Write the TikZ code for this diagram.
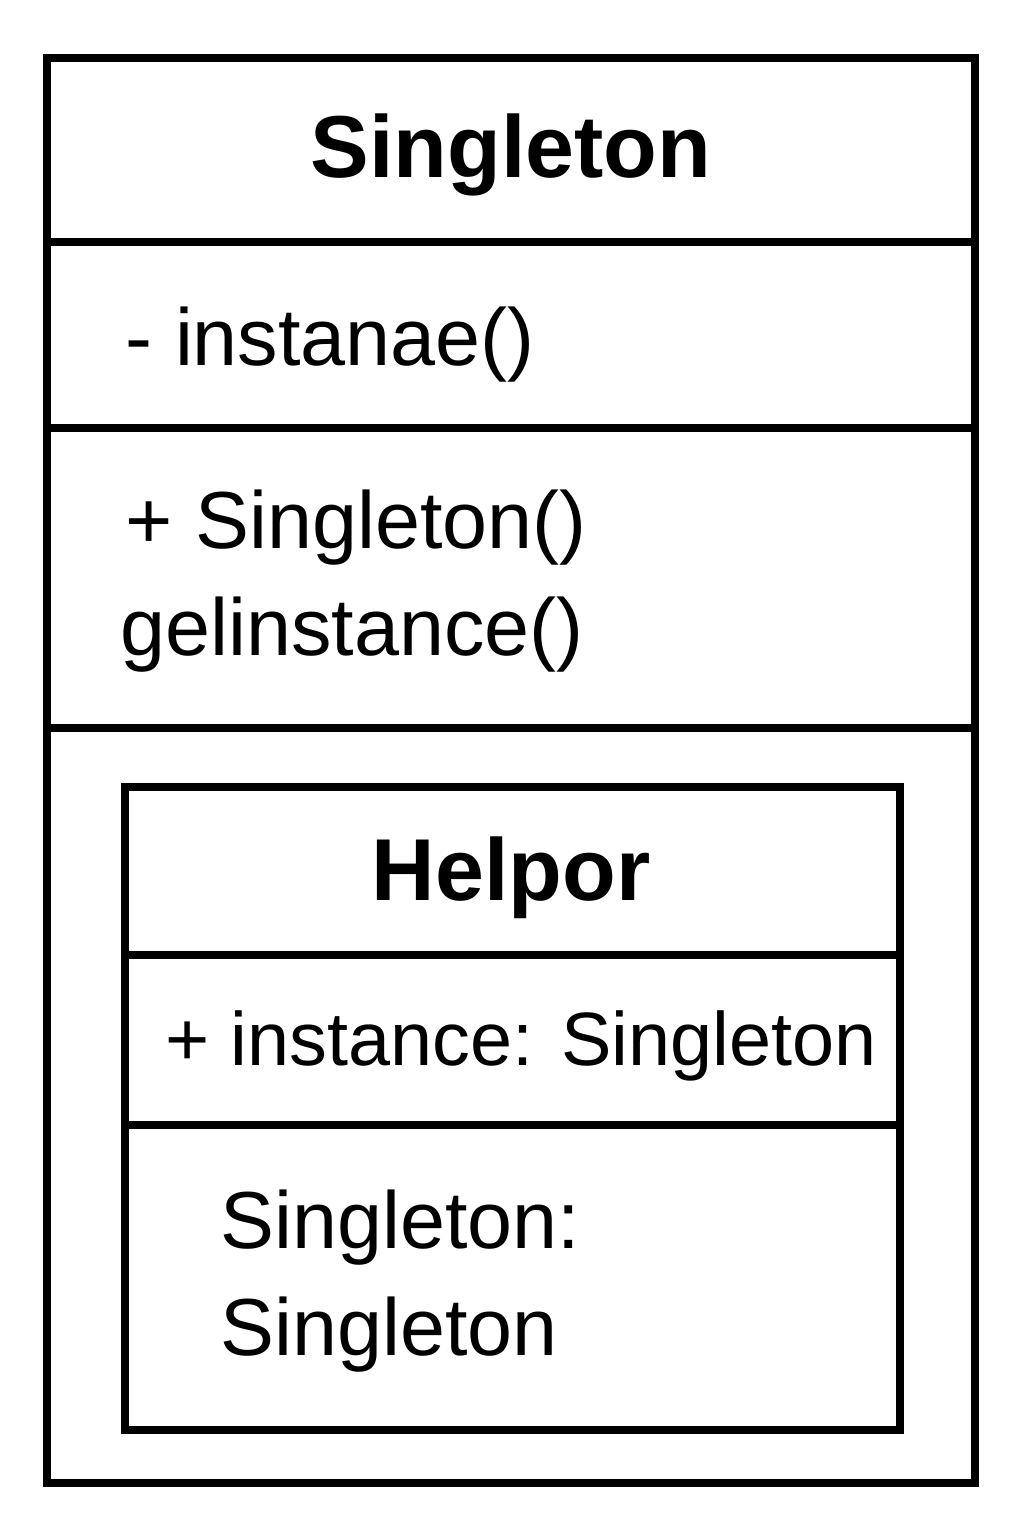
\documentclass[tikz,border=0pt]{standalone}
\usepackage{fontspec}
\setmainfont{Liberation Sans}
\usetikzlibrary{calc}

\tikzset{
  umlline/.style={line width=2.2pt},
  classname/.style={font=\fontsize{25}{30}\selectfont\bfseries, anchor=base, inner sep=0pt},
  member/.style={font=\fontsize{23}{27}\selectfont, anchor=base west, inner sep=0pt},
}

\begin{document}
\begin{tikzpicture}[x=0.01cm, y=-0.01cm]
  \useasboundingbox (0,0) rectangle (1024,1536);

  % outer class
  \coordinate (SNW) at (47,58);
  \coordinate (SSE) at (975,1483);
  \draw[umlline] (SNW) rectangle (SSE);
  \draw[umlline] (SNW |- 0,242) -- (SSE |- 0,242);
  \draw[umlline] (SNW |- 0,428) -- (SSE |- 0,428);
  \draw[umlline] (SNW |- 0,728) -- (SSE |- 0,728);

  \node[classname] (stitle) at (511,177) {Singleton};
  \node[member] (sattr) at (125,365) {- instanae()};
  \node[member] (sctor) at (125,548) {+ Singleton()};
  \node[member] (sget) at (120,655) {gelinstance()};

  % nested class
  \coordinate (HNW) at (125,787);
  \coordinate (HSE) at (900,1430);
  \draw[umlline] (HNW) rectangle (HSE);
  \draw[umlline] (HNW |- 0,955) -- (HSE |- 0,955);
  \draw[umlline] (HNW |- 0,1125) -- (HSE |- 0,1125);

  \node[classname] (htitle) at (511,900) {Helpor};
  \node[member, font=\fontsize{21.5}{26}\selectfont] (hattr) at (165,1065) {+ instance: Singleton};
  \node[member] (hop1) at (220,1248) {Singleton:};
  \node[member] (hop2) at (220,1355) {Singleton};
\end{tikzpicture}
\end{document}
